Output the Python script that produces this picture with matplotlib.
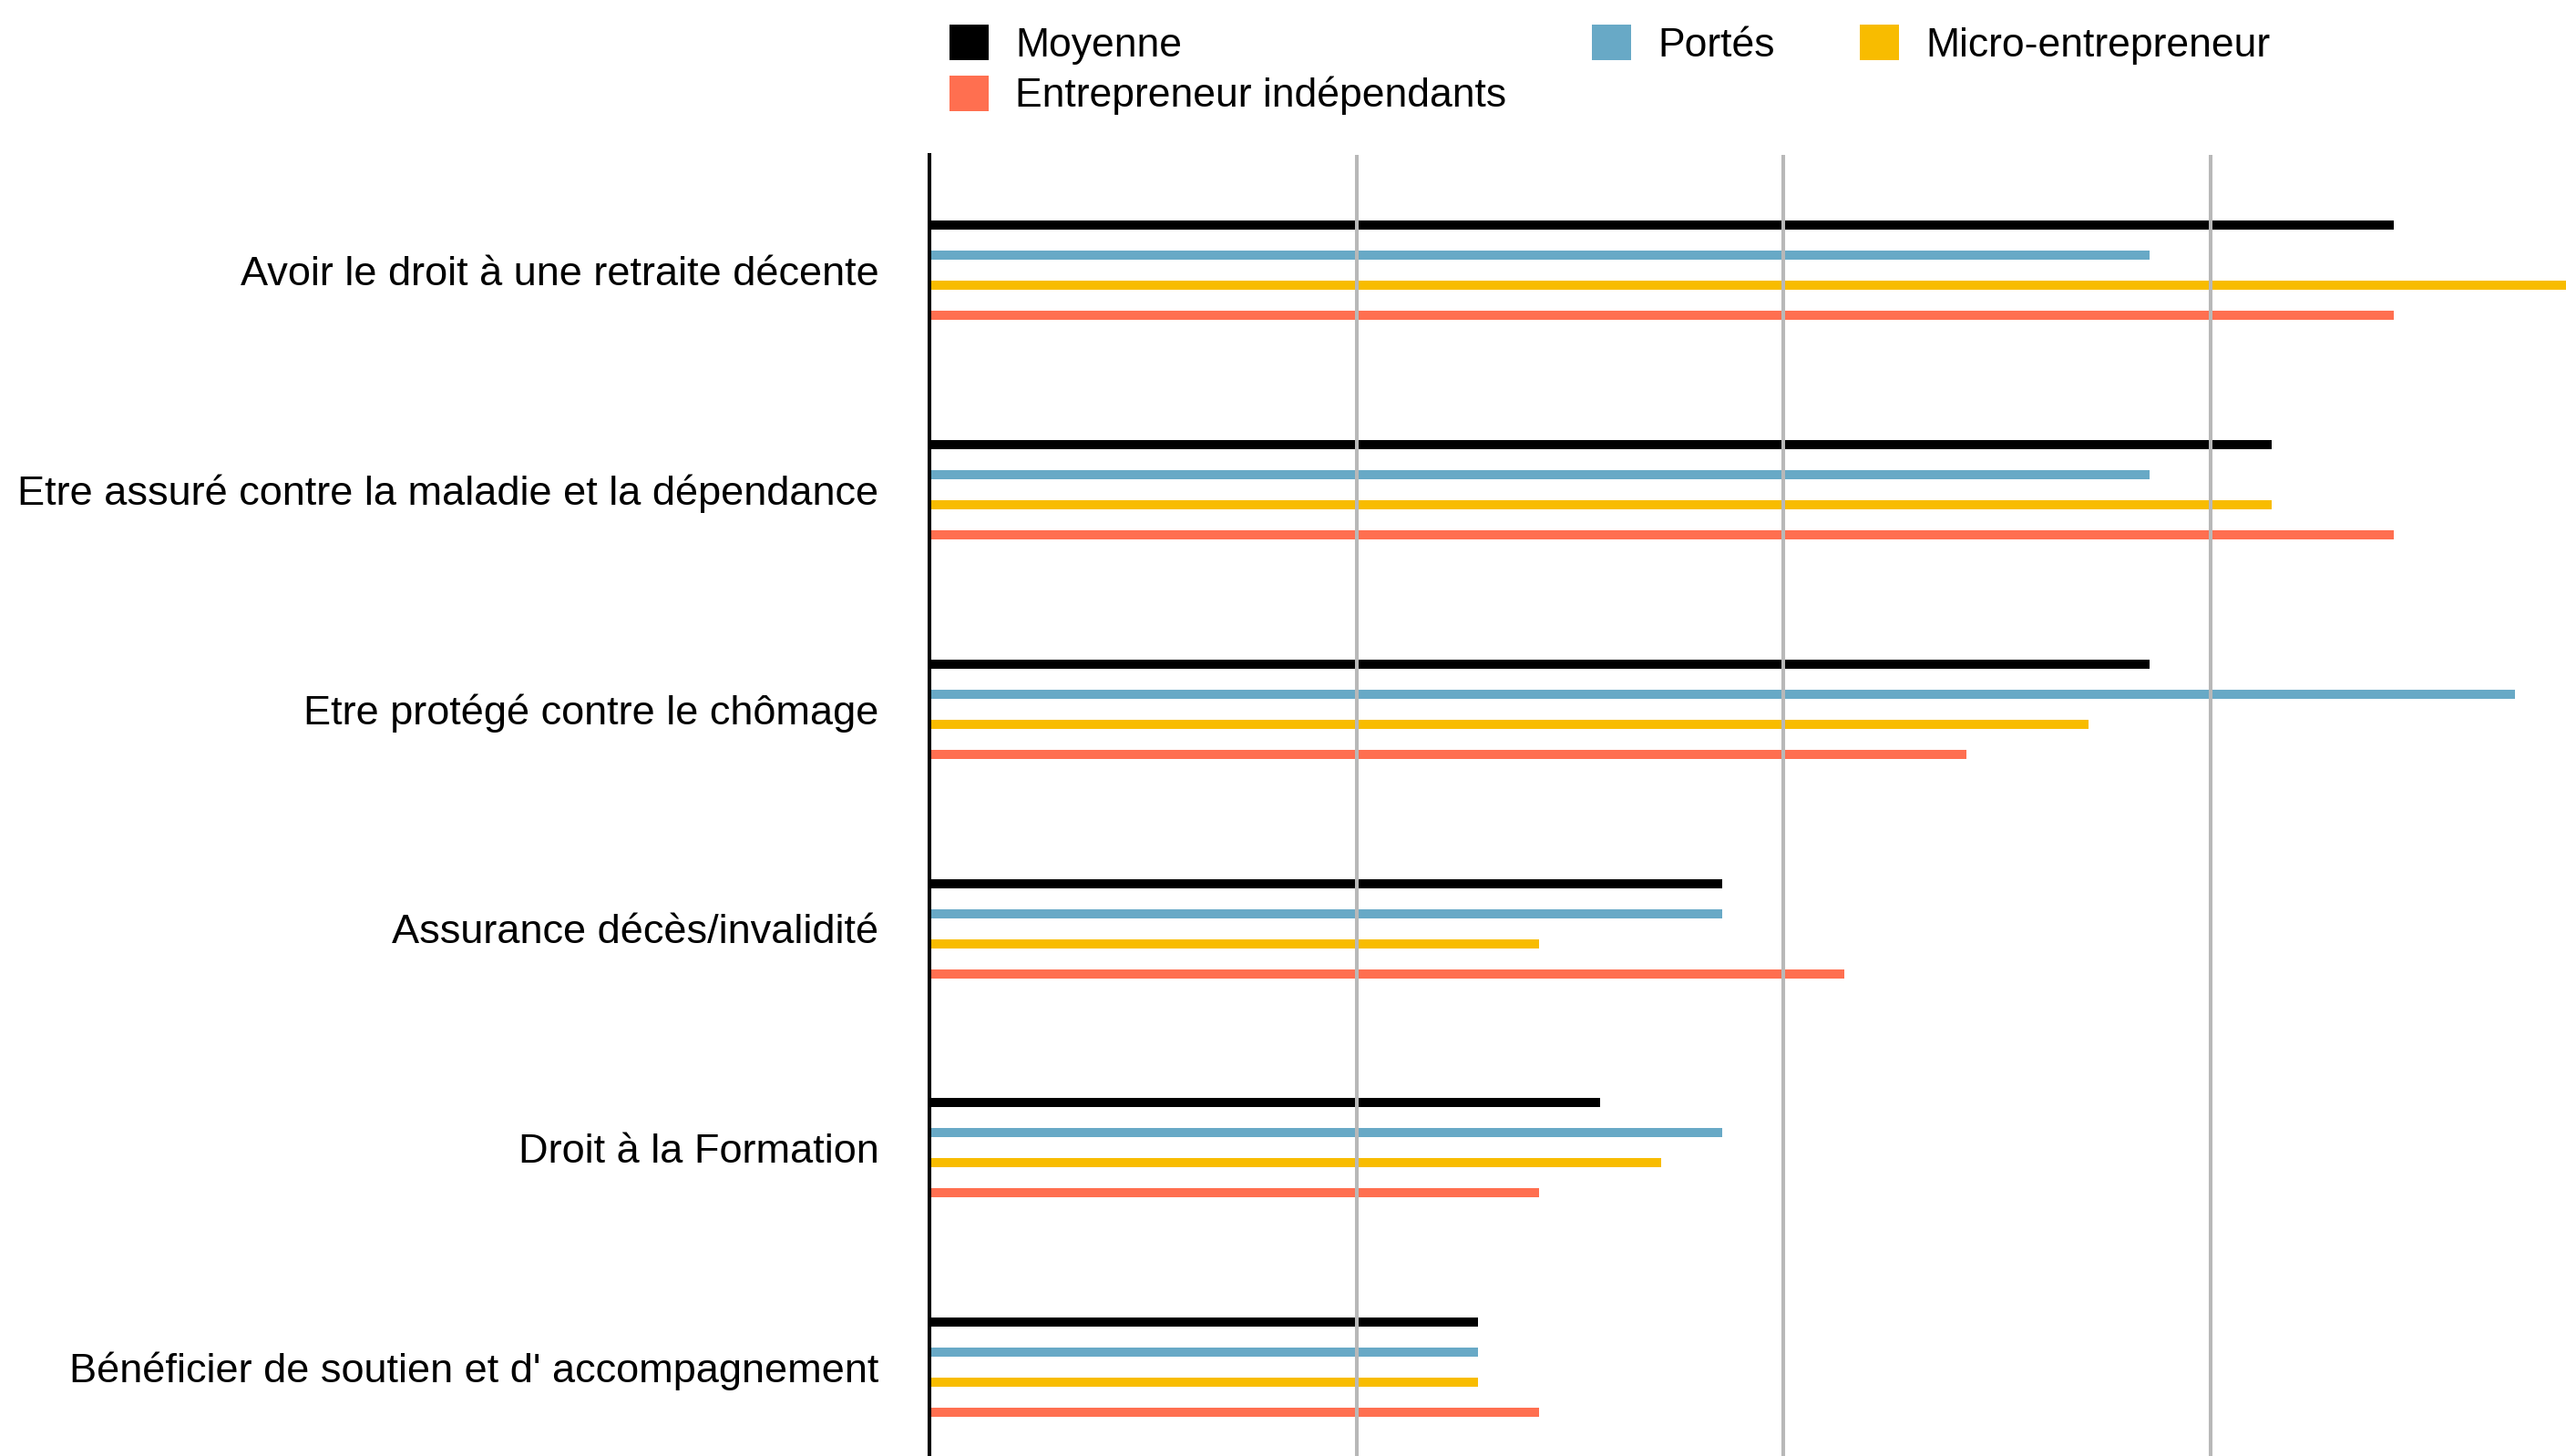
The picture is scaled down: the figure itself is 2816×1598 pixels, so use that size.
import matplotlib
matplotlib.use("Agg")
import matplotlib.pyplot as plt
from matplotlib.patches import Patch
import numpy as np

plt.rcParams['font.family'] = ['Liberation Sans', 'DejaVu Sans']

categories = [
    "Avoir le droit à une retraite décente",
    "Etre assuré contre la maladie et la dépendance",
    "Etre protégé contre le chômage",
    "Assurance décès/invalidité",
    "Droit à la Formation",
    "Bénéficier de soutien et d' accompagnement",
]
series_names = ["Moyenne", "Portés", "Micro-entrepreneur", "Entrepreneur indépendants"]
moyenne = [24, 22, 20, 13, 11, 9]
portes = [20, 20, 26, 13, 13, 9]
micro = [28, 22, 19, 10, 12, 9]
entrepreneur = [24, 24, 17, 15, 10, 10]
colors = ["#000000", "#68a9c6", "#f8bc00", "#ff6f50"]
grid_ticks = [7, 14, 21]

W, H = 2816, 1598
fig = plt.figure(figsize=(W / 100, H / 100), dpi=100)
ax_left = 1020 / W
ax_top_px = 170
ax = fig.add_axes([ax_left, 0, 1 - ax_left, (H - ax_top_px) / H])

group_px = 240.7
pitch = 33 / group_px
bar_h = 10 / group_px
y = np.arange(len(categories))
all_series = [moyenne, portes, micro, entrepreneur]
for k, (vals, col, name) in enumerate(zip(all_series, colors, series_names)):
    ax.barh(y + (k - 1.5) * pitch, vals, height=bar_h, color=col, label=name, zorder=1)

top_units = (297 - ax_top_px) / group_px
ax.set_ylim(-top_units + (H - ax_top_px) / group_px, -top_units)
ax.set_xlim(0, 26.83)

ax.set_xticks(grid_ticks)
ax.tick_params(axis='x', length=0, labelbottom=False)
ax.set_axisbelow(False)
ax.grid(axis='x', color='#b8b8b8', linewidth=2.9)
ax.grid(axis='y', visible=False)

ax.set_yticks(y)
ax.set_yticklabels(categories, fontsize=32.5)
ax.tick_params(axis='y', length=0, pad=40)

for s in ['top', 'right', 'bottom']:
    ax.spines[s].set_visible(False)
ax.spines['left'].set_color('black')
ax.spines['left'].set_linewidth(2.9)
ax.spines['left'].set_zorder(3)

handles = [Patch(facecolor=c, edgecolor='none') for c in colors]
order = [0, 3, 1, 2]
fig.legend([handles[i] for i in order], [series_names[i] for i in order],
           ncol=3, loc='upper left', bbox_to_anchor=(1042 / W, 1 - 27 / H),
           bbox_transform=fig.transFigure, frameon=False, fontsize=32,
           handlelength=0.97, handleheight=0.97, handletextpad=0.65,
           columnspacing=2.11, labelspacing=0.27, borderpad=0, borderaxespad=0)

fig.savefig("out.png", dpi=100)
